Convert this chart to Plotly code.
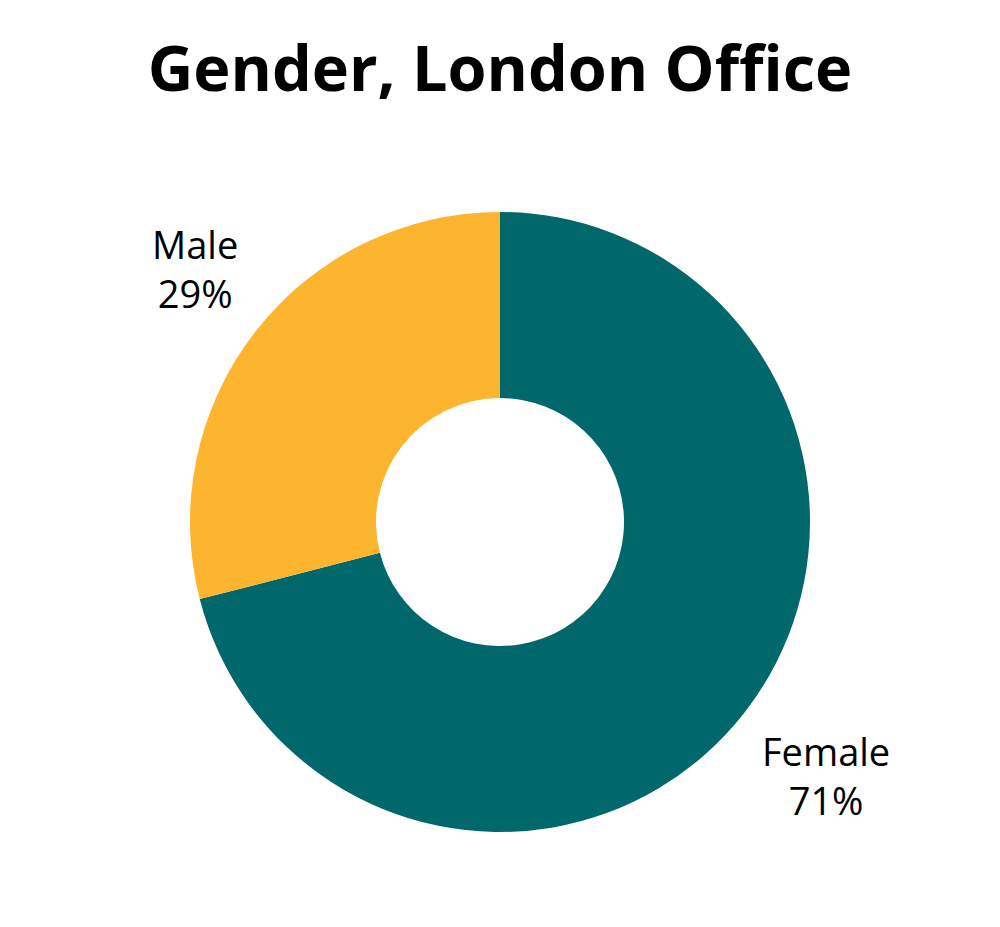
import math
import plotly.graph_objects as go

labels = ["Female", "Male"]
values = [71, 29]
colors = ["#00686B", "#FDB52F"]
title_text = "Gender, London Office"

W, H = 1000, 927
BODY = 8  # default page margin of the html body

# pie geometry in figure pixels
CX, CY, R = 500 - BODY, 522 - BODY, 310
LABEL_GAP = 1.06  # label corner distance as multiple of outer radius

fig = go.Figure(go.Pie(
    labels=labels,
    values=values,
    hole=0.4,
    sort=False,
    direction="clockwise",
    rotation=0,
    marker=dict(colors=colors, line=dict(width=0)),
    textinfo="none",
    domain=dict(x=[(CX - R) / W, (CX + R) / W],
                y=[1 - (CY + R) / H, 1 - (CY - R) / H]),
    showlegend=False,
))

# outside labels, placed at the middle angle of each slice
total = sum(values)
cum = 0
for lab, val in zip(labels, values):
    mid = (cum + val / 2) / total * 2 * math.pi
    cum += val
    dx = R * LABEL_GAP * math.sin(mid)
    dy = -R * LABEL_GAP * math.cos(mid)
    fig.add_annotation(
        x=(CX + dx) / W, y=1 - (CY + dy) / H,
        xref="paper", yref="paper",
        text=f"{lab}<br>{round(val / total * 100)}%",
        showarrow=False, align="center",
        xanchor="left" if dx >= 0 else "right",
        yanchor="top" if dy >= 0 else "bottom",
        font=dict(family="Open Sans", size=38, color="#000000"),
    )

fig.update_layout(
    width=W, height=H,
    margin=dict(l=0, r=0, t=0, b=0),
    paper_bgcolor="white",
    plot_bgcolor="white",
    title=dict(
        text="<b>" + title_text + "</b>",
        x=(500 - BODY) / W, xanchor="center",
        y=1 - 61 / H, yanchor="middle",
        font=dict(family="Open Sans", size=63, color="#000000"),
    ),
)

fig.write_html("out.html")
